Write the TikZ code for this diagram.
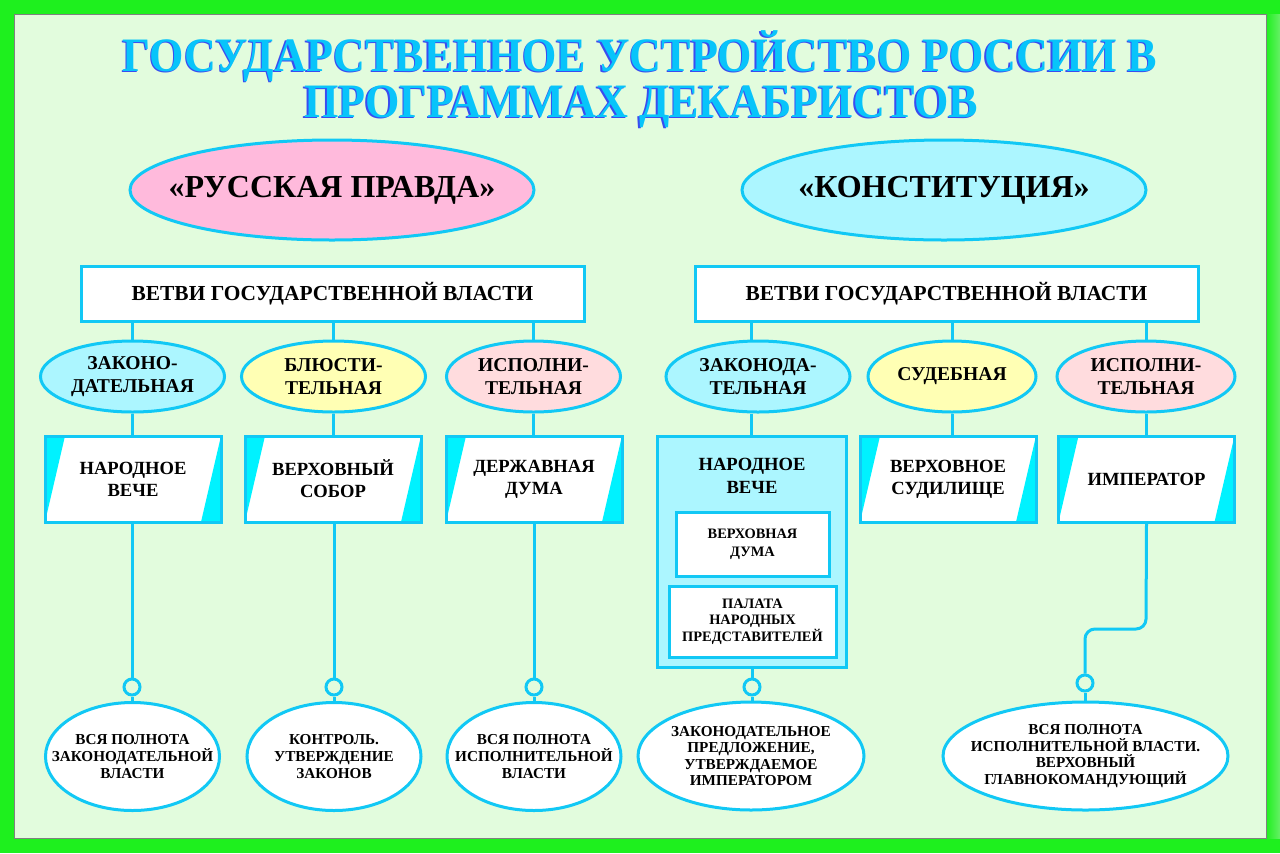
\documentclass[tikz,border=0pt]{standalone}
\usepackage{fontspec}
\setmainfont{Liberation Serif}
\usetikzlibrary{shapes.geometric}
\definecolor{frameg}{HTML}{1EF01E}
\definecolor{frameg2}{HTML}{66F066}
\definecolor{panel}{HTML}{E2FCDD}
\definecolor{cy}{HTML}{11C8F5}
\definecolor{titlec}{HTML}{08C4FA}
\definecolor{titles}{HTML}{3A4CF0}
\definecolor{pinkf}{HTML}{FFBADC}
\definecolor{cyanf}{HTML}{ACF6FF}
\definecolor{yelf}{HTML}{FFFFB4}
\definecolor{rosef}{HTML}{FFDCDE}
\definecolor{trif}{HTML}{00F2FF}
\newcommand{\shadowtitle}[1]{\rlap{\kern-0.7pt\raisebox{-0.7pt}{\textcolor{titles}{\scalebox{0.92}[1]{#1}}}}\textcolor{titlec}{\scalebox{0.92}[1]{#1}}}
\tikzset{
  conn/.style={draw=cy, line width=1.5pt},
  ttl/.style={anchor=base, inner sep=0, font=\bfseries\fontsize{24}{28}\selectfont},
  bigoval/.style={ellipse, draw=cy, line width=1.5pt, minimum width=202pt, minimum height=50pt, inner sep=0},
  bigtext/.style={inner sep=0, font=\bfseries\fontsize{16}{18}\selectfont},
  branch/.style={rectangle, draw=cy, fill=white, line width=1.5pt, minimum width=251.5pt, minimum height=27.5pt, inner sep=0, font=\bfseries\fontsize{10.7}{12}\selectfont},
  smalloval/.style={ellipse, draw=cy, line width=1.5pt, minimum width=92pt, minimum height=35.5pt, inner sep=0},
  smalltext/.style={inner sep=0, align=center, font=\bfseries\fontsize{9.8}{11.5}\selectfont},
  organ/.style={rectangle, draw=cy, fill=white, line width=1.5pt, minimum width=88pt, minimum height=43pt, inner sep=0, align=center, font=\bfseries\fontsize{9.3}{11}\selectfont,
    path picture={
      \fill[trif] (path picture bounding box.north west) -- ++(10pt,0) -- (path picture bounding box.south west) -- cycle;
      \fill[trif] (path picture bounding box.south east) -- ++(-10pt,0) -- (path picture bounding box.north east) -- cycle;}},
  inbox/.style={rectangle, draw=cy, fill=white, line width=1.5pt, inner sep=0, align=center, font=\bfseries\fontsize{7.2}{9}\selectfont},
  result/.style={ellipse, draw=cy, fill=white, line width=1.5pt, minimum width=87pt, minimum height=54pt, inner sep=0},
  restext/.style={inner sep=0, align=center, font=\bfseries\fontsize{7.6}{8.5}\selectfont},
  knob/.style={circle, draw=cy, fill=panel, line width=1.5pt, minimum size=8pt, inner sep=0}
}
\begin{document}
\begin{tikzpicture}[x=0.5pt,y=-0.5pt]
\useasboundingbox (0,0) rectangle (1280,853);
% frame
\fill[frameg] (0,0) rectangle (1280,853);
\shade[left color=frameg, right color=frameg2] (1266,14) rectangle (1280,838);
\fill[panel, draw=gray, line width=0.5pt] (14,14) rectangle (1266,838);
% title
\node[ttl] (t1) at (640,71) {\shadowtitle{ГОСУДАРСТВЕННОЕ УСТРОЙСТВО РОССИИ В}};
\node[ttl] (t2) at (641,117) {\shadowtitle{ПРОГРАММАХ ДЕКАБРИСТОВ}};
% top ovals
\node[bigoval, fill=pinkf, label={[bigtext]center:{«РУССКАЯ ПРАВДА»}}] (rp) at (332,190) {};
\node[bigoval, fill=cyanf, label={[bigtext]center:{«КОНСТИТУЦИЯ»}}] (kn) at (944,190) {};
% branch boxes
\node[branch] (lb) at (332.5,293.5) {ВЕТВИ ГОСУДАРСТВЕННОЙ ВЛАСТИ};
\node[branch] (rb) at (946.5,293.5) {ВЕТВИ ГОСУДАРСТВЕННОЙ ВЛАСТИ};
% branch ovals
\node[smalloval, fill=cyanf, label={[smalltext]center:{ЗАКОНО-\\ДАТЕЛЬНАЯ}}] (lz1) at (132.5,376.5) {};
\node[smalloval, fill=yelf, label={[smalltext]center:{БЛЮСТИ-\\ТЕЛЬНАЯ}}] (lz2) at (333.5,376.5) {};
\node[smalloval, fill=rosef, minimum width=87pt, label={[smalltext]center:{ИСПОЛНИ-\\ТЕЛЬНАЯ}}] (lz3) at (533.5,376.5) {};
\node[smalloval, fill=cyanf, label={[smalltext]center:{ЗАКОНОДА-\\ТЕЛЬНАЯ}}] (rz1) at (758,376.5) {};
\node[smalloval, fill=yelf, minimum width=84pt, label={[smalltext]center:{СУДЕБНАЯ}}] (rz2) at (952,376.5) {};
\node[smalloval, fill=rosef, minimum width=89pt, label={[smalltext]center:{ИСПОЛНИ-\\ТЕЛЬНАЯ}}] (rz3) at (1146,376.5) {};
% organ boxes
\node[organ] (lo1) at (133,479) {НАРОДНОЕ\\ВЕЧЕ};
\node[organ] (lo2) at (333,479) {ВЕРХОВНЫЙ\\СОБОР};
\node[organ] (lo3) at (534,479) {ДЕРЖАВНАЯ\\ДУМА};
\node[rectangle, draw=cy, fill=cyanf, line width=1.5pt, minimum width=94.5pt, minimum height=115.5pt, inner sep=0] (ro1) at (751.5,551.5) {};
\node[font=\bfseries\fontsize{9.3}{11.5}\selectfont, align=center, inner sep=0] (ro1t) at (752,476) {НАРОДНОЕ\\ВЕЧЕ};
\node[inbox, minimum width=76.5pt, minimum height=32pt] (vd) at (752.5,544) {ВЕРХОВНАЯ\\ДУМА};
\node[inbox, minimum width=83.5pt, minimum height=35.5pt, font=\bfseries\fontsize{7.2}{8.3}\selectfont] (pnp) at (752.5,621.5) {ПАЛАТА\\НАРОДНЫХ\\ПРЕДСТАВИТЕЛЕЙ};
\node[organ] (ro2) at (948,479) {ВЕРХОВНОЕ\\СУДИЛИЩЕ};
\node[organ] (ro3) at (1146.5,479) {ИМПЕРАТОР};
% knobs
\node[knob] (k1) at (132,687) {};
\node[knob] (k2) at (334,687) {};
\node[knob] (k3) at (534,687) {};
\node[knob] (k4) at (752,687) {};
\node[knob] (k5) at (1085,683) {};
% results
\node[result, label={[restext]center:{ВСЯ ПОЛНОТА\\ЗАКОНОДАТЕЛЬНОЙ\\ВЛАСТИ}}] (r1) at (132.5,756.5) {};
\node[result, label={[restext]center:{КОНТРОЛЬ.\\УТВЕРЖДЕНИЕ\\ЗАКОНОВ}}] (r2) at (334,756.5) {};
\node[result, label={[restext]center:{ВСЯ ПОЛНОТА\\ИСПОЛНИТЕЛЬНОЙ\\ВЛАСТИ}}] (r3) at (534,756.5) {};
\node[result, minimum width=113pt, label={[restext, font=\bfseries\fontsize{7.6}{8.3}\selectfont]center:{ЗАКОНОДАТЕЛЬНОЕ\\ПРЕДЛОЖЕНИЕ,\\УТВЕРЖДАЕМОЕ\\ИМПЕРАТОРОМ}}] (r4) at (751,756) {};
\node[result, minimum width=142.5pt, label={[restext, font=\bfseries\fontsize{7.6}{8.3}\selectfont]center:{ВСЯ ПОЛНОТА\\ИСПОЛНИТЕЛЬНОЙ ВЛАСТИ.\\ВЕРХОВНЫЙ\\ГЛАВНОКОМАНДУЮЩИЙ}}] (r5) at (1085.5,756) {};
% connectors
\foreach \o/\b in {lz1/lb, lz2/lb, lz3/lb, rz2/rb, rz3/rb} {
  \draw[conn] (\o.north |- \b.south) -- (\o.north);
}
\draw[conn] (ro1.north |- rb.south) -- (ro1.north |- rz1.north);
\draw[conn] (ro1.north |- rz1.south) -- (ro1.north);
\foreach \o/\b in {lz1/lo1, lz2/lo2, lz3/lo3, rz2/ro2, rz3/ro3} {
  \draw[conn] (\o.south) -- (\o.south |- \b.north);
}
\foreach \b/\k/\r in {lo1/k1/r1, lo2/k2/r2, lo3/k3/r3, ro1/k4/r4} {
  \draw[conn] (\k |- \b.south) -- (\k.north);
  \draw[conn] (\k.south) -- (\k.south |- \r.north);
}
\coordinate (bend) at (1146,629);
\draw[conn, rounded corners=5pt] (ro3.south) -- (bend) -- (k5 |- bend) -- (k5.north);
\draw[conn] (k5.south) -- (k5.south |- r5.north);
\end{tikzpicture}
\end{document}
